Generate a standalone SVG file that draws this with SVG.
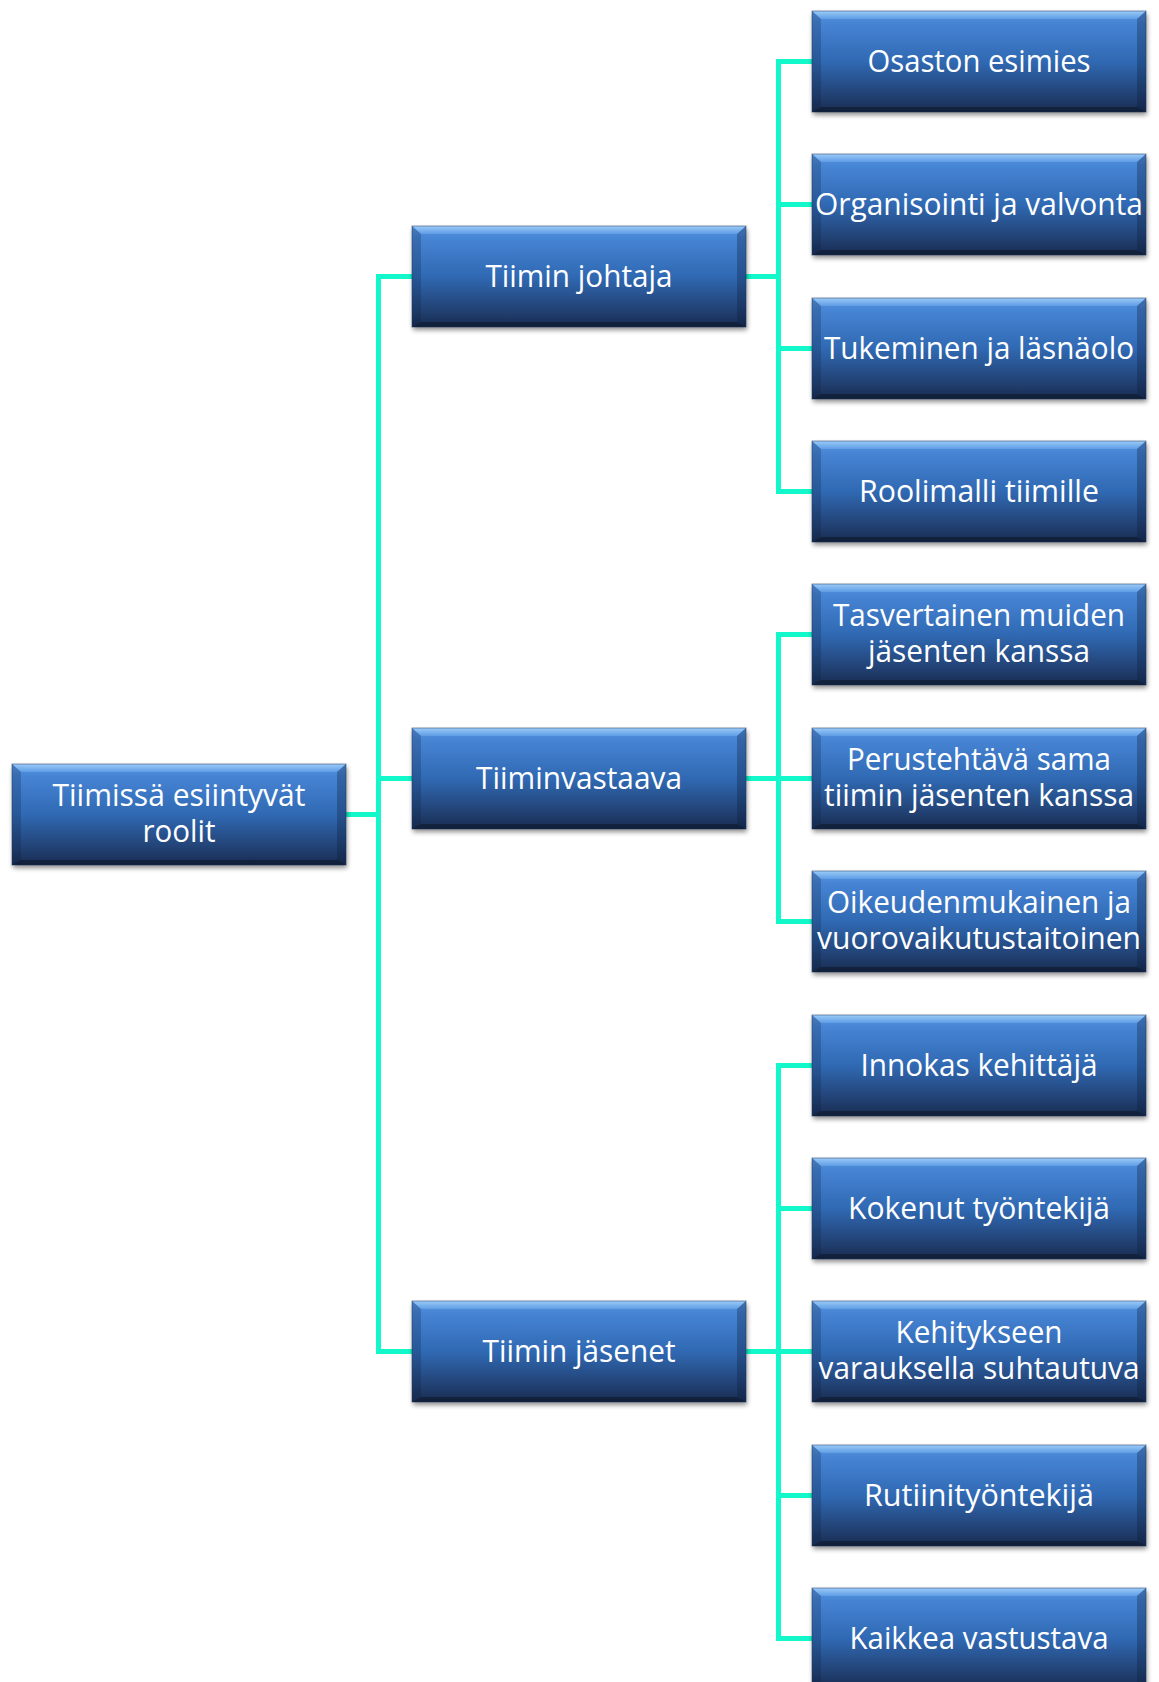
<svg xmlns="http://www.w3.org/2000/svg" xmlns:xlink="http://www.w3.org/1999/xlink" width="1159" height="1682" viewBox="0 0 1159 1682">
<style>
.t{font-family:"Open Sans","Noto Sans","DejaVu Sans",sans-serif;font-size:30.5px;fill:#ffffff;text-anchor:middle}
.c{fill:none;stroke:#12F8CA;stroke-width:5;stroke-linejoin:miter;stroke-linecap:butt}
</style>
<defs>
<linearGradient id="gBody" x1="0" y1="0" x2="0" y2="1">
<stop offset="0" stop-color="#5A98E2"/>
<stop offset="0.12" stop-color="#4684D4"/>
<stop offset="0.5" stop-color="#3069B3"/>
<stop offset="0.85" stop-color="#213F70"/>
<stop offset="1" stop-color="#182C50"/>
</linearGradient>
<linearGradient id="gTop" x1="0" y1="0" x2="0" y2="1">
<stop offset="0" stop-color="#9CCBF8"/>
<stop offset="1" stop-color="#5E9DE5"/>
</linearGradient>
<filter id="sh" x="-10%" y="-20%" width="120%" height="150%">
<feGaussianBlur stdDeviation="2.5"/>
</filter>
<g id="box">
<rect x="1" y="3" width="334" height="101" fill="#000" opacity="0.45" filter="url(#sh)"/>
<rect x="0" y="0" width="334" height="101" fill="url(#gBody)"/>
<polygon points="0,0 334,0 325,8 9,8" fill="url(#gTop)"/>
<polygon points="0,0 9,8 9,96 0,101" fill="#0A1A38" opacity="0.22"/>
<polygon points="334,0 325,8 325,96 334,101" fill="#0A1A38" opacity="0.3"/>
<polygon points="0,101 9,96 325,96 334,101" fill="#000" opacity="0.3"/>
<rect x="0" y="0" width="334" height="101" fill="none" stroke="#1C3560" stroke-opacity="0.5" stroke-width="1"/>
</g>
</defs>

<g id="connectors">
<path class="c" d="M346 814.5 H378.5"/>
<path class="c" d="M412 276.5 H378.5 V1351.5 H412"/>
<path class="c" d="M378.5 778.5 H412"/>
<path class="c" d="M746 276.5 H778.5"/>
<path class="c" d="M812 61.5 H778.5 V491.5 H812"/>
<path class="c" d="M778.5 204.5 H812"/>
<path class="c" d="M778.5 348.5 H812"/>
<path class="c" d="M746 778.5 H812"/>
<path class="c" d="M812 634.5 H778.5 V921.5 H812"/>
<path class="c" d="M746 1351.5 H812"/>
<path class="c" d="M812 1065.5 H778.5 V1638.5 H812"/>
<path class="c" d="M778.5 1208.5 H812"/>
<path class="c" d="M778.5 1495.5 H812"/>
</g>

<g id="root" transform="translate(12,764)">
<use xlink:href="#box"/>
<text class="t" x="167" y="42" textLength="253" lengthAdjust="spacingAndGlyphs">Tiimissä esiintyvät</text>
<text class="t" x="167" y="78" textLength="73" lengthAdjust="spacingAndGlyphs">roolit</text>
</g>

<g id="n-johtaja" transform="translate(412,226)">
<use xlink:href="#box"/>
<text class="t" x="167" y="61" textLength="187" lengthAdjust="spacingAndGlyphs">Tiimin johtaja</text>
</g>
<g id="n-vastaava" transform="translate(412,728)">
<use xlink:href="#box"/>
<text class="t" x="167" y="61" textLength="206" lengthAdjust="spacingAndGlyphs">Tiiminvastaava</text>
</g>
<g id="n-jasenet" transform="translate(412,1301)">
<use xlink:href="#box"/>
<text class="t" x="167" y="61" textLength="193" lengthAdjust="spacingAndGlyphs">Tiimin jäsenet</text>
</g>

<g id="n-osaston" transform="translate(812,11)">
<use xlink:href="#box"/>
<text class="t" x="167" y="61" textLength="223" lengthAdjust="spacingAndGlyphs">Osaston esimies</text>
</g>
<g id="n-organisointi" transform="translate(812,154)">
<use xlink:href="#box"/>
<text class="t" x="167" y="61" textLength="328" lengthAdjust="spacingAndGlyphs">Organisointi ja valvonta</text>
</g>
<g id="n-tukeminen" transform="translate(812,298)">
<use xlink:href="#box"/>
<text class="t" x="167" y="61" textLength="310" lengthAdjust="spacingAndGlyphs">Tukeminen ja läsnäolo</text>
</g>
<g id="n-roolimalli" transform="translate(812,441)">
<use xlink:href="#box"/>
<text class="t" x="167" y="61" textLength="240" lengthAdjust="spacingAndGlyphs">Roolimalli tiimille</text>
</g>
<g id="n-tasvertainen" transform="translate(812,584)">
<use xlink:href="#box"/>
<text class="t" x="167" y="42" textLength="292" lengthAdjust="spacingAndGlyphs">Tasvertainen muiden</text>
<text class="t" x="167" y="78" textLength="222" lengthAdjust="spacingAndGlyphs">jäsenten kanssa</text>
</g>
<g id="n-perustehtava" transform="translate(812,728)">
<use xlink:href="#box"/>
<text class="t" x="167" y="42" textLength="264" lengthAdjust="spacingAndGlyphs">Perustehtävä sama</text>
<text class="t" x="167" y="78" textLength="310" lengthAdjust="spacingAndGlyphs">tiimin jäsenten kanssa</text>
</g>
<g id="n-oikeudenmukainen" transform="translate(812,871)">
<use xlink:href="#box"/>
<text class="t" x="167" y="42" textLength="304" lengthAdjust="spacingAndGlyphs">Oikeudenmukainen ja</text>
<text class="t" x="167" y="78" textLength="324" lengthAdjust="spacingAndGlyphs">vuorovaikutustaitoinen</text>
</g>
<g id="n-innokas" transform="translate(812,1015)">
<use xlink:href="#box"/>
<text class="t" x="167" y="61" textLength="237" lengthAdjust="spacingAndGlyphs">Innokas kehittäjä</text>
</g>
<g id="n-kokenut" transform="translate(812,1158)">
<use xlink:href="#box"/>
<text class="t" x="167" y="61" textLength="262" lengthAdjust="spacingAndGlyphs">Kokenut työntekijä</text>
</g>
<g id="n-kehitykseen" transform="translate(812,1301)">
<use xlink:href="#box"/>
<text class="t" x="167" y="42" textLength="167" lengthAdjust="spacingAndGlyphs">Kehitykseen</text>
<text class="t" x="167" y="78" textLength="321" lengthAdjust="spacingAndGlyphs">varauksella suhtautuva</text>
</g>
<g id="n-rutiini" transform="translate(812,1445)">
<use xlink:href="#box"/>
<text class="t" x="167" y="61" textLength="230" lengthAdjust="spacingAndGlyphs">Rutiinityöntekijä</text>
</g>
<g id="n-kaikkea" transform="translate(812,1588)">
<use xlink:href="#box"/>
<text class="t" x="167" y="61" textLength="259" lengthAdjust="spacingAndGlyphs">Kaikkea vastustava</text>
</g>
</svg>
